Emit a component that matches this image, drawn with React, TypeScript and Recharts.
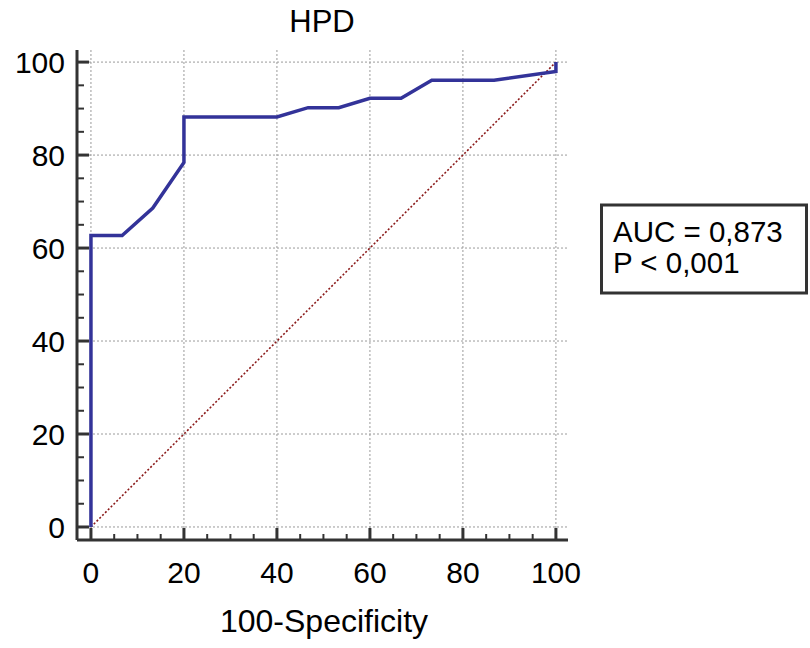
import { ComposedChart, Line, XAxis, YAxis, ReferenceLine } from 'recharts'

// ROC curve points (100-Specificity vs Sensitivity)
const rocX = [0, 0, 6.7, 13.3, 20, 20, 40, 46.7, 53.3, 60, 66.7, 73.3, 86.7, 100, 100]
const rocY = [0, 62.7, 62.7, 68.6, 78.4, 88.2, 88.2, 90.2, 90.2, 92.2, 92.2, 96.1, 96.1, 98.0, 100]
const diagX = [0, 100]
const diagY = [0, 100]
const majorTicks = [0, 20, 40, 60, 80, 100]
const allTicks = [0, 5, 10, 15, 20, 25, 30, 35, 40, 45, 50, 55, 60, 65, 70, 75, 80, 85, 90, 95, 100]
const title = 'HPD'
const xLabel = '100-Specificity'
const legendLines = ['AUC = 0,873', 'P < 0,001']

const rocData = rocX.map((x, i) => ({ x, y: rocY[i] }))
const diagData = diagX.map((x, i) => ({ x, d: diagY[i] }))

const FONT = '"Liberation Sans", Arial, sans-serif'
const AXIS = '#333333'

function XTick(props: any) {
  const { x, y, payload } = props
  const major = majorTicks.includes(payload.value)
  return (
    <g>
      <line x1={x} y1={y} x2={x} y2={y - (major ? 12 : 6)} stroke={AXIS} strokeWidth={major ? 3 : 2} />
      {major && (
        <text x={x} y={y + 43} textAnchor="middle" fontSize={30} fontFamily={FONT} fill="#000">
          {payload.value}
        </text>
      )}
    </g>
  )
}

function YTick(props: any) {
  const { x, y, payload } = props
  const major = majorTicks.includes(payload.value)
  return (
    <g>
      <line x1={x} y1={y} x2={x + (major ? 12 : 7)} y2={y} stroke={AXIS} strokeWidth={major ? 3 : 2} />
      {major && (
        <text x={x - 12} y={y + 11} textAnchor="end" fontSize={30} fontFamily={FONT} fill="#000">
          {payload.value}
        </text>
      )}
    </g>
  )
}

export default function App() {
  return (
    <div style={{ position: 'absolute', left: 0, top: 0, width: 810, height: 648, background: '#fff' }}>
      <ComposedChart width={810} height={648} margin={{ top: 50, left: 0, right: 242, bottom: 0 }}>
        <XAxis
          type="number"
          dataKey="x"
          domain={[-3, 102.6]}
          ticks={allTicks}
          allowDataOverflow
          height={108}
          tickSize={0}
          tickMargin={0}
          tickLine={false}
          axisLine={{ stroke: AXIS, strokeWidth: 3 }}
          tick={<XTick />}
          interval={0}
        />
        <YAxis
          type="number"
          domain={[-2.8, 102.6]}
          ticks={allTicks}
          allowDataOverflow
          width={77}
          tickSize={0}
          tickMargin={0}
          tickLine={false}
          axisLine={{ stroke: AXIS, strokeWidth: 3 }}
          tick={<YTick />}
          interval={0}
        />
        {majorTicks.map(v => (
          <ReferenceLine key={'v' + v} x={v} stroke="#9a9a9a" strokeDasharray="2 2" strokeWidth={1} />
        ))}
        {majorTicks.map(v => (
          <ReferenceLine key={'h' + v} y={v} stroke="#9a9a9a" strokeDasharray="2 2" strokeWidth={1} />
        ))}
        <Line
          data={diagData}
          dataKey="d"
          type="linear"
          stroke="#8b1a1a"
          strokeWidth={1.6}
          strokeDasharray="2 2"
          dot={false}
          isAnimationActive={false}
        />
        <Line
          data={rocData}
          dataKey="y"
          type="linear"
          stroke="#333399"
          strokeWidth={3.5}
          dot={false}
          isAnimationActive={false}
        />
      </ComposedChart>
      {/* title, axis title and the AUC box */}
      <svg width={810} height={648} style={{ position: 'absolute', left: 0, top: 0, pointerEvents: 'none' }}>
        <text x={322} y={32} textAnchor="middle" fontSize={31} fontFamily={FONT} fill="#000">
          {title}
        </text>
        <text x={324} y={632} textAnchor="middle" fontSize={32} fontFamily={FONT} fill="#000">
          {xLabel}
        </text>
        <rect x={601.5} y={205} width={205} height={88} fill="#fff" stroke={AXIS} strokeWidth={3} />
        {legendLines.map((l, i) => (
          <text key={l} x={613} y={242 + i * 31} fontSize={29.5} fontFamily={FONT} fill="#000">
            {l}
          </text>
        ))}
      </svg>
    </div>
  )
}
